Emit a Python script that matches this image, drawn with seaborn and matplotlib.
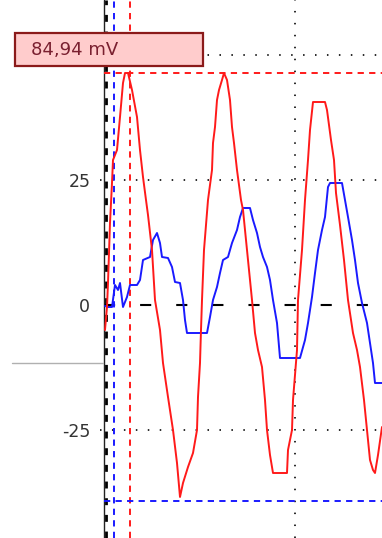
import matplotlib
matplotlib.use("Agg")
import matplotlib.pyplot as plt
import pandas as pd
import seaborn as sns
from matplotlib.patches import Rectangle

# trace samples (x in samples from the left edge, y in mV)
red_x = [1, 3, 4, 6, 8, 9, 13, 16, 19, 21, 24, 28, 33, 36, 39, 42, 44, 48, 51, 56,
         59, 64, 69, 73, 76, 79, 84, 89, 93, 94, 96, 97, 98, 100, 104, 108, 109, 111,
         113, 115, 118, 120, 123, 126, 128, 130, 133, 137, 139, 143, 148, 151, 154,
         158, 161, 163, 166, 169, 183, 184, 188, 189, 193, 194, 198, 201, 204, 206,
         209, 221, 223, 225, 227, 230, 232, 236, 240, 244, 249, 253, 256, 260, 263,
         266, 269, 271, 274, 278]
red_y = [-5.0, -0.4, 4.4, 16.4, 24.4, 29.0, 31.0, 37.6, 44.4, 46.4, 46.4, 43.0, 37.6,
         31.0, 25.6, 21.0, 18.0, 11.0, 1.0, -5.0, -11.6, -18.4, -25.0, -31.6, -38.4,
         -35.6, -32.4, -29.6, -25.0, -18.4, -11.6, -5.0, 1.0, 11.0, 21.0, 27.0, 32.4,
         35.6, 41.0, 43.0, 45.0, 46.4, 45.0, 41.0, 35.6, 32.4, 27.0, 21.0, 19.0, 11.0,
         1.0, -5.6, -9.0, -12.4, -19.0, -25.0, -30.0, -33.6, -33.6, -29.0, -25.0,
         -19.0, -9.0, 1.0, 11.0, 21.0, 29.0, 35.0, 40.6, 40.6, 39.0, 36.0, 33.0, 29.0,
         22.4, 16.0, 9.0, 1.0, -5.6, -9.0, -12.4, -19.0, -25.0, -31.0, -33.0, -33.6,
         -30.0, -24.4]

blue_x = [1, 4, 8, 11, 14, 16, 19, 23, 26, 33, 36, 39, 46, 49, 53, 56, 58, 64, 68, 71,
          76, 79, 81, 83, 103, 106, 109, 113, 116, 119, 124, 128, 133, 136, 139, 146,
          149, 153, 156, 159, 163, 166, 169, 173, 176, 196, 201, 204, 208, 211, 214,
          218, 221, 224, 226, 238, 241, 244, 248, 251, 254, 258, 263, 266, 269, 271, 278]
blue_y = [-0.2, -0.4, -0.4, 4.0, 3.0, 4.4, -0.4, 1.6, 4.0, 4.0, 5.0, 9.0, 9.6, 13.0,
          14.4, 12.4, 9.6, 9.4, 7.6, 4.6, 4.4, 1.0, -3.0, -5.6, -5.6, -2.4, 1.0, 3.6,
          6.4, 9.0, 9.6, 12.4, 15.0, 17.6, 19.4, 19.4, 17.0, 14.4, 11.6, 9.6, 7.6, 5.0,
          1.0, -3.6, -10.6, -10.6, -7.0, -3.6, 1.6, 6.4, 11.0, 15.0, 17.6, 23.6, 24.4,
          24.4, 21.0, 17.6, 13.0, 9.0, 4.4, 0.4, -3.6, -7.6, -11.6, -15.6, -15.6]

# cursors
red_cursor_x, red_cursor_y = 26, 46.4
blue_cursor_x, blue_cursor_y = 10, -39.1
grid_y = [50, 25, -25]
grid_x = 191
ytick_vals = [-25, 0, 25]
ytick_labels = ["-25", "0", "25"]
readout = "84,94 mV"

RED = "#ff1a1a"
BLUE = "#1a1aff"
CURSOR_DASH = (4.5, 3.8)
DOTS = (1.1, 7.5)

sns.set_theme(style="white")
plt.rcParams["lines.scale_dashes"] = False

fig = plt.figure(figsize=(3.82, 5.38), dpi=100)
ax = fig.add_axes([100 / 382, 0, 282 / 382, 1])

red_df = pd.DataFrame({"t": red_x, "v": red_y})
blue_df = pd.DataFrame({"t": blue_x, "v": blue_y})

# grid (dotted)
for gy in grid_y:
    ax.axhline(gy, color="#2a2a2a", lw=1.4, dashes=DOTS, zorder=1)
ax.axvline(grid_x, color="#2a2a2a", lw=1.4, dashes=DOTS, zorder=1)

# zero line
ax.axhline(0, xmin=4 / 282, color="black", lw=1.5, dashes=(8, 18), zorder=1)

# left axis: thin solid + thick dashed
ax.axvline(-0.5, color="#222222", lw=1.0, zorder=2, clip_on=False)
ax.axvline(2.0, color="black", lw=2.0, dashes=(5, 7), zorder=2)
ax.plot([-92, -1], [-11.6, -11.6], color="#b0b0b0", lw=1.0, clip_on=False)

# cursors
ax.axvline(blue_cursor_x, color=BLUE, lw=1.4, dashes=CURSOR_DASH, zorder=3)
ax.axvline(red_cursor_x, color=RED, lw=1.4, dashes=CURSOR_DASH, zorder=3)
ax.axhline(red_cursor_y, xmin=4 / 282, color=RED, lw=1.4, dashes=CURSOR_DASH, zorder=3)
ax.axhline(blue_cursor_y, xmin=4 / 282, color=BLUE, lw=1.4, dashes=CURSOR_DASH, zorder=3)

# traces
sns.lineplot(data=blue_df, x="t", y="v", color=BLUE, lw=1.4, estimator=None,
             ax=ax, zorder=4)
sns.lineplot(data=red_df, x="t", y="v", color=RED, lw=1.4, estimator=None,
             ax=ax, zorder=5)

ax.set_xlim(-4, 278)
ax.set_ylim(-46.6, 61)
ax.set_xticks([])
ax.set_yticks(ytick_vals)
ax.set_yticklabels(ytick_labels)
ax.tick_params(axis="y", length=0, pad=7, labelsize=12.5, labelcolor="#333333")
ax.set_xlabel("")
ax.set_ylabel("")
for s in ax.spines.values():
    s.set_visible(False)
ax.patch.set_alpha(0)

# readout box
fig.add_artist(Rectangle((15 / 382, 1 - 66 / 538), 188 / 382, 33 / 538,
                         transform=fig.transFigure, facecolor="#ffcccc",
                         edgecolor="#8b1a1a", lw=1.6, zorder=10))
fig.text(31 / 382, 1 - 50 / 538, readout, transform=fig.transFigure,
         fontsize=13, color="#7a2030", va="center", ha="left", zorder=11)

fig.savefig("out.png", dpi=100)
